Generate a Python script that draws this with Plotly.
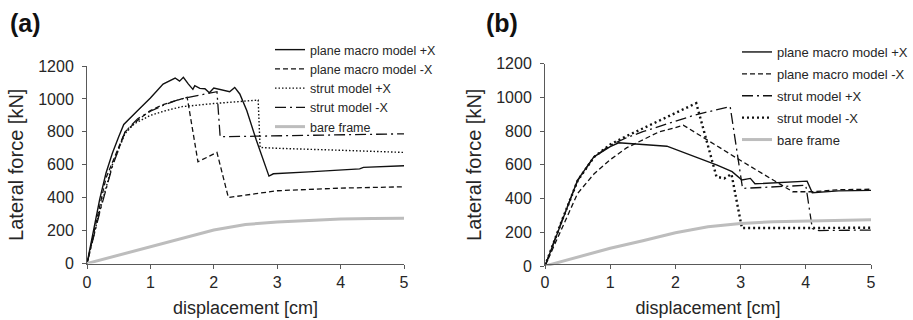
import plotly.graph_objects as go

# ---- data: lateral force [kN] vs displacement [cm] ----
# panel (a)
a_pm_pos_x = [0, 0.1, 0.2, 0.3, 0.4, 0.5, 0.58, 0.8, 1.0, 1.2, 1.3, 1.39, 1.46, 1.52, 1.6, 1.67,
              1.70, 1.78, 1.86, 1.93, 2.0, 2.12, 2.25, 2.33, 2.41, 2.52, 2.67, 2.87, 2.94, 3.5,
              4.0, 4.3, 4.36, 5.0]
a_pm_pos_y = [0, 200, 390, 550, 670, 770, 845, 930, 1005, 1090, 1110, 1127, 1108, 1131, 1090, 1058,
              1080, 1064, 1062, 1038, 1066, 1056, 1044, 1070, 1030, 930, 750, 531, 545, 557,
              566, 575, 584, 594]

a_pm_neg_x = [0, 0.3, 0.6, 0.8, 1.0, 1.2, 1.4, 1.58, 1.75, 2.05, 2.23, 3.0, 4.0, 5.0]
a_pm_neg_y = [0, 520, 800, 870, 930, 965, 990, 1010, 618, 675, 401, 442, 458, 466]

a_st_pos_x = [0, 0.2, 0.4, 0.6, 0.75, 1.0, 1.25, 1.5, 2.0, 2.4, 2.7, 2.73, 3.0, 4.0, 5.0]
a_st_pos_y = [0, 320, 600, 790, 850, 900, 930, 953, 972, 985, 993, 705, 700, 688, 675]

a_st_neg_x = [0, 0.2, 0.4, 0.6, 0.8, 1.0, 1.2, 1.4, 1.6, 1.8, 2.05, 2.1, 3.0, 4.0, 5.0]
a_st_neg_y = [0, 310, 590, 800, 880, 925, 960, 990, 1010, 1025, 1044, 770, 776, 782, 788]

a_bare_x = [0, 0.5, 1.0, 1.5, 2.0, 2.5, 3.0, 3.5, 4.0, 4.5, 5.0]
a_bare_y = [0, 50, 101, 152, 203, 237, 252, 262, 270, 273, 275]

# panel (b)
b_pm_pos_x = [0, 0.25, 0.5, 0.75, 1.0, 1.13, 1.87, 2.64, 2.87, 3.02, 3.15, 3.22, 4.02, 4.1, 4.5, 5.0]
b_pm_pos_y = [0, 260, 509, 647, 707, 730, 710, 598, 559, 510, 519, 487, 503, 434, 445, 448]

b_pm_neg_x = [0, 0.25, 0.5, 0.75, 1.0, 1.25, 1.5, 1.75, 2.0, 2.12, 3.0, 3.8, 4.1, 4.5, 5.0]
b_pm_neg_y = [0, 215, 430, 545, 630, 700, 750, 795, 820, 835, 625, 440, 440, 452, 455]

b_st_pos_x = [0, 0.25, 0.5, 0.75, 1.0, 1.25, 1.5, 2.0, 2.3, 2.84, 3.03, 4.0, 4.1, 4.2, 5.0]
b_st_pos_y = [0, 260, 505, 645, 715, 760, 796, 855, 895, 945, 460, 478, 222, 210, 213]

b_st_neg_x = [0, 0.25, 0.5, 0.75, 1.0, 1.25, 1.5, 1.75, 2.0, 2.2, 2.32, 2.63, 2.75, 2.86, 3.02, 4.0, 5.0]
b_st_neg_y = [0, 260, 505, 645, 720, 770, 815, 860, 905, 945, 965, 529, 519, 545, 225, 225, 227]

b_bare_x = [0, 0.5, 1.0, 1.5, 2.0, 2.5, 3.0, 3.5, 4.0, 4.5, 5.0]
b_bare_y = [0, 52, 105, 150, 197, 232, 252, 262, 267, 271, 274]

y_ticks = [0, 200, 400, 600, 800, 1000, 1200]
x_ticks = [0, 1, 2, 3, 4, 5]

FONT = "Liberation Sans, Arial, sans-serif"
BLACK = "#111111"
GREY = "#bdbdbd"
AXIS = "#595959"
TEXT = "#262626"

W, H = 913, 320

fig = go.Figure()


def add(x, y, name, dash, width, color, xa, ya, legend, group):
    fig.add_trace(go.Scatter(
        x=x, y=y, mode="lines", name=name,
        line=dict(color=color, width=width, dash=dash),
        xaxis=xa, yaxis=ya, legend=legend, legendgroup=group,
    ))


# panel (a)
add(a_pm_pos_x, a_pm_pos_y, "plane macro model +X", "solid", 1.4, BLACK, "x", "y", "legend", "a1")
add(a_pm_neg_x, a_pm_neg_y, "plane macro model -X", "5px,3px", 1.3, BLACK, "x", "y", "legend", "a2")
add(a_st_pos_x, a_st_pos_y, "strut model +X", "1.5px,2px", 1.4, BLACK, "x", "y", "legend", "a3")
add(a_st_neg_x, a_st_neg_y, "strut model -X", "11px,4px,2px,4px", 1.3, BLACK, "x", "y", "legend", "a4")
add(a_bare_x, a_bare_y, "bare frame", "solid", 3, GREY, "x", "y", "legend", "a5")

# panel (b)
add(b_pm_pos_x, b_pm_pos_y, "plane macro model +X", "solid", 1.4, BLACK, "x2", "y2", "legend2", "b1")
add(b_pm_neg_x, b_pm_neg_y, "plane macro model -X", "5px,3px", 1.3, BLACK, "x2", "y2", "legend2", "b2")
add(b_st_pos_x, b_st_pos_y, "strut model +X", "11px,4px,2px,4px", 1.3, BLACK, "x2", "y2", "legend2", "b3")
add(b_st_neg_x, b_st_neg_y, "strut model -X", "2px,3px", 2.4, BLACK, "x2", "y2", "legend2", "b4")
add(b_bare_x, b_bare_y, "bare frame", "solid", 3, GREY, "x2", "y2", "legend2", "b5")


def xaxis(domain):
    return dict(
        domain=domain, range=[0, 5], tickvals=x_ticks, showgrid=False, zeroline=False,
        showline=True, linecolor=AXIS, linewidth=1, ticks="outside", ticklen=4,
        tickcolor=AXIS, tickfont=dict(size=16, color=TEXT, family=FONT),
        title=dict(text="displacement [cm]", font=dict(size=18, color=TEXT, family=FONT), standoff=11),
        automargin=False, fixedrange=True,
    )


def yaxis(domain, anchor):
    return dict(
        domain=domain, range=[0, 1200], tickvals=y_ticks, showgrid=False, zeroline=False,
        showline=True, linecolor=AXIS, linewidth=1, ticks="outside", ticklen=4,
        tickcolor=AXIS, tickfont=dict(size=16, color=TEXT, family=FONT), ticklabelstandoff=5,
        title=dict(text="Lateral force [kN]", font=dict(size=20, color=TEXT, family=FONT), standoff=9),
        automargin=False, fixedrange=True, anchor=anchor,
    )


legend_style = dict(
    bgcolor="rgba(0,0,0,0)", xanchor="left", yanchor="top", itemwidth=30, traceorder="grouped",
)

fig.update_layout(
    width=W, height=H, margin=dict(l=0, r=0, t=0, b=0),
    paper_bgcolor="white", plot_bgcolor="white",
    font=dict(family=FONT, color=TEXT),
    xaxis=xaxis([87 / W, 404 / W]),
    yaxis=yaxis([(H - 263.5) / H, (H - 66) / H], "x"),
    xaxis2=xaxis([545 / W, 871 / W]),
    yaxis2=yaxis([(H - 266) / H, (H - 63.5) / H], "x2"),
    legend=dict(x=270 / W, y=1 - 35 / H, tracegroupgap=0,
                font=dict(size=12.5, color=TEXT, family=FONT), **legend_style),
    legend2=dict(x=737 / W, y=1 - 37 / H, tracegroupgap=2,
                 font=dict(size=13, color=TEXT, family=FONT), **legend_style),
    showlegend=True,
    annotations=[
        dict(text="<b>(a)</b>", x=8 / W, y=1 - 23 / H, xref="paper", yref="paper",
             xanchor="left", yanchor="middle", showarrow=False,
             font=dict(size=25, color="#111111", family=FONT)),
        dict(text="<b>(b)</b>", x=484 / W, y=1 - 23 / H, xref="paper", yref="paper",
             xanchor="left", yanchor="middle", showarrow=False,
             font=dict(size=25, color="#111111", family=FONT)),
    ],
)

fig.write_html("out.html")
